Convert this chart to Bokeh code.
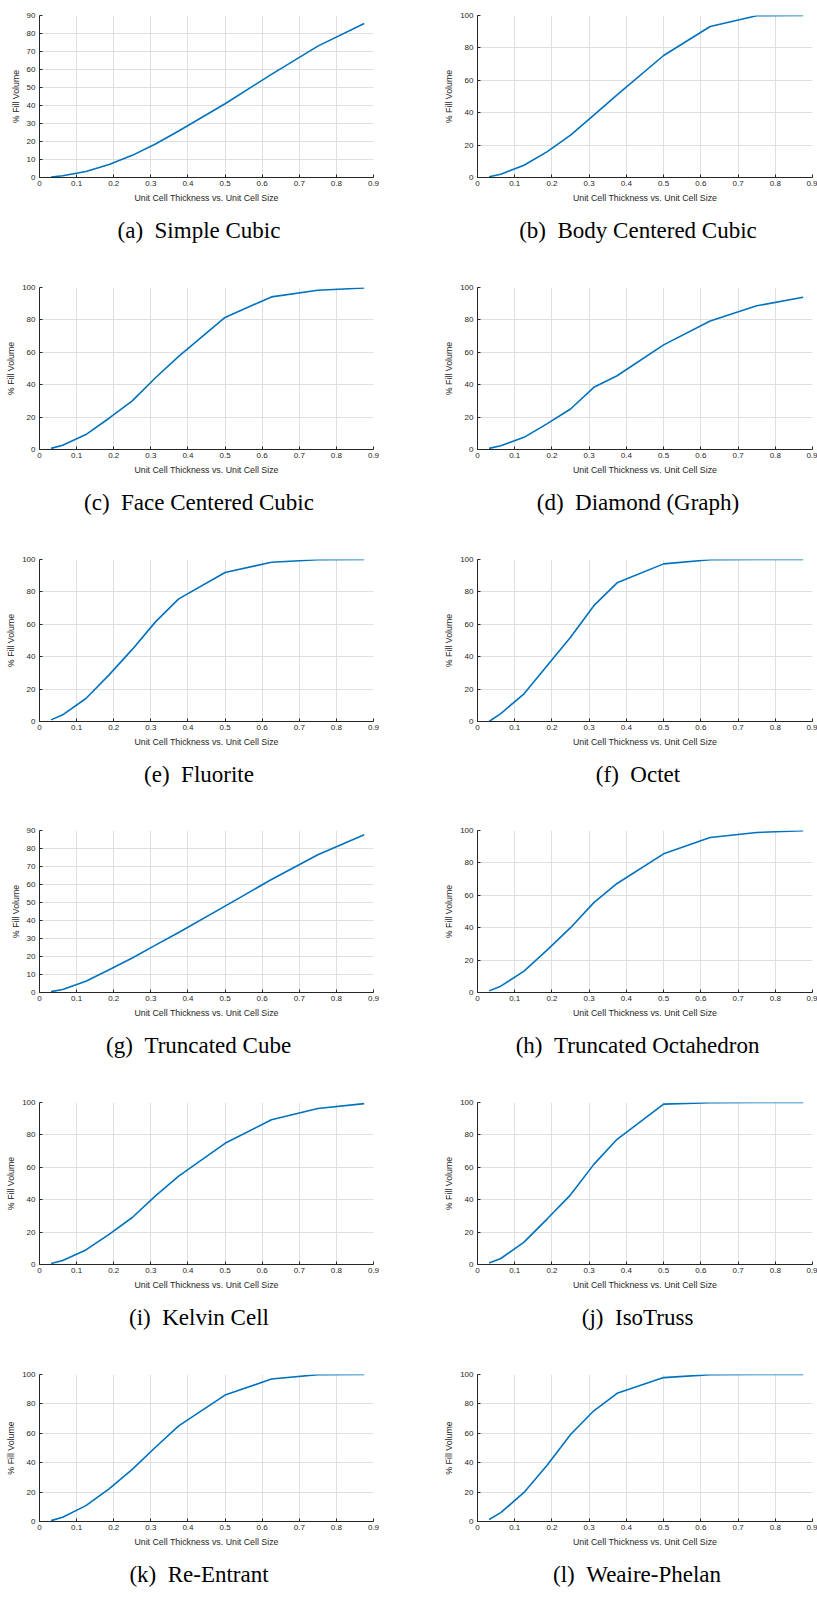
from bokeh.plotting import figure
from bokeh.models import Range1d, FixedTicker, PrintfTickFormatter, Title
from bokeh.layouts import column, row
from bokeh.embed import file_html
from bokeh.resources import INLINE

# ---- data ----
thickness = [0.03125, 0.0625, 0.125, 0.1875, 0.25, 0.3125, 0.375, 0.5, 0.625, 0.75, 0.875]

simple_cubic = [0.3, 1.0, 3.3, 7.2, 12.3, 18.6, 25.8, 41.0, 57.3, 73.0, 85.6]
body_centered_cubic = [0.5, 2.0, 7.6, 16.0, 26.2, 38.5, 51.0, 75.3, 93.2, 99.8, 100.0]
face_centered_cubic = [0.7, 2.6, 9.2, 19.3, 30.0, 44.3, 57.5, 81.5, 94.2, 98.3, 99.7]
diamond_graph = [0.7, 2.3, 7.5, 16.0, 25.0, 38.4, 45.5, 64.6, 79.3, 88.7, 94.0]
fluorite = [1.0, 4.1, 14.2, 28.8, 44.5, 61.5, 75.7, 92.0, 98.3, 99.8, 100.0]
octet = [0.0, 4.9, 17.1, 34.5, 52.0, 71.5, 85.6, 97.3, 99.8, 100.0, 100.0]
truncated_cube = [0.5, 1.7, 6.3, 12.6, 19.2, 26.3, 33.3, 48.0, 62.8, 76.5, 87.6]
truncated_octahedron = [1.0, 3.9, 13.2, 26.3, 40.0, 55.5, 67.3, 85.6, 95.7, 98.8, 99.8]
kelvin_cell = [0.6, 2.5, 9.0, 18.6, 29.0, 42.4, 54.5, 74.8, 89.3, 96.3, 99.3]
isotruss = [1.0, 3.7, 13.8, 28.2, 43.0, 61.8, 77.3, 99.0, 99.9, 100.0, 100.0]
re_entrant = [0.6, 2.9, 10.8, 22.2, 35.5, 50.5, 65.0, 86.0, 96.9, 99.9, 100.0]
weaire_phelan = [1.4, 6.0, 19.8, 38.5, 59.2, 75.3, 87.2, 97.9, 99.9, 100.0, 100.0]

captions = [
    "(a)\u00a0\u00a0Simple Cubic", "(b)\u00a0\u00a0Body Centered Cubic",
    "(c)\u00a0\u00a0Face Centered Cubic", "(d)\u00a0\u00a0Diamond (Graph)",
    "(e)\u00a0\u00a0Fluorite", "(f)\u00a0\u00a0Octet",
    "(g)\u00a0\u00a0Truncated Cube", "(h)\u00a0\u00a0Truncated Octahedron",
    "(i)\u00a0\u00a0Kelvin Cell", "(j)\u00a0\u00a0IsoTruss",
    "(k)\u00a0\u00a0Re-Entrant", "(l)\u00a0\u00a0Weaire-Phelan",
]
series = [simple_cubic, body_centered_cubic, face_centered_cubic, diamond_graph,
          fluorite, octet, truncated_cube, truncated_octahedron,
          kelvin_cell, isotruss, re_entrant, weaire_phelan]
y_max = [90, 100, 100, 100, 100, 100, 90, 100, 100, 100, 100, 100]

x_ticks = [0, 0.1, 0.2, 0.3, 0.4, 0.5, 0.6, 0.7, 0.8, 0.9]
y_ticks_90 = [0, 10, 20, 30, 40, 50, 60, 70, 80, 90]
y_ticks_100 = [0, 20, 40, 60, 80, 100]

x_label = "Unit Cell Thickness vs. Unit Cell Size"
y_label = "% Fill Volume"

AX = "#262626"
GRID = "#dfdfdf"
LINE = "#0072BD"
SANS = "Liberation Sans"
SERIF = "Liberation Serif"
CAP_SIZE = 23

# Times / Liberation Serif advance widths (per 1000 em), used to place captions
TIMES_W = {' ': 250, '\u00a0': 250, '(': 333, ')': 333, '-': 333,
           'a': 444, 'b': 500, 'c': 444, 'd': 500, 'e': 444, 'f': 333, 'g': 500,
           'h': 500, 'i': 278, 'j': 278, 'k': 500, 'l': 278, 'm': 778, 'n': 500,
           'o': 500, 'p': 500, 'r': 333, 's': 389, 't': 278, 'u': 500, 'v': 500,
           'y': 500, 'z': 444, 'B': 667, 'C': 667, 'D': 722, 'E': 611, 'F': 556,
           'G': 722, 'I': 333, 'K': 722, 'O': 722, 'P': 556, 'R': 667, 'S': 556,
           'T': 611, 'W': 944}


def text_width(s):
    return sum(TIMES_W.get(c, 500) for c in s) / 1000.0 * CAP_SIZE


row_heights = [272, 272, 271, 272, 272, 242]
FRAME_H = 162
TOP = 15


def make_panel(i):
    col = i % 2
    r = i // 2
    if col == 0:
        width, mbl, mbr = 408, 39, 35
        frame_left, cap_center = 39, 198.5
    else:
        width, mbl, mbr = 409, 69, 5
        frame_left, cap_center = 477, 637.5
    height = row_heights[r]
    mbb = height - TOP - FRAME_H
    yt = y_ticks_90 if y_max[i] == 90 else y_ticks_100
    p = figure(width=width, height=height, output_backend="svg", toolbar_location=None,
               x_range=Range1d(0, 0.9), y_range=Range1d(0, y_max[i]),
               min_border_left=mbl, min_border_right=mbr, min_border_top=TOP,
               min_border_bottom=mbb, outline_line_color=None,
               background_fill_color="white", border_fill_color="white")
    p.line(thickness, series[i], line_color=LINE, line_width=1.6)

    p.xaxis.ticker = FixedTicker(ticks=x_ticks)
    p.xaxis.formatter = PrintfTickFormatter(format="%.3g")
    p.yaxis.ticker = FixedTicker(ticks=yt)
    p.xaxis.axis_label = x_label
    p.yaxis.axis_label = y_label
    for ax in (p.xaxis[0], p.yaxis[0]):
        ax.axis_line_color = AX
        ax.axis_line_width = 1
        ax.major_tick_line_color = AX
        ax.major_tick_in = 3
        ax.major_tick_out = 0
        ax.minor_tick_line_color = None
        ax.major_label_text_font = SANS
        ax.major_label_text_font_size = "8px"
        ax.major_label_text_color = AX
        ax.axis_label_text_font = SANS
        ax.axis_label_text_font_size = "8.8px"
        ax.axis_label_text_font_style = "normal"
        ax.axis_label_text_color = AX
    p.xaxis.major_label_standoff = 3
    p.xaxis.axis_label_standoff = 4
    p.yaxis.major_label_standoff = 4
    p.yaxis.axis_label_standoff = 3
    p.xgrid.grid_line_color = GRID
    p.ygrid.grid_line_color = GRID
    p.xgrid.ticker = FixedTicker(ticks=x_ticks)
    p.ygrid.ticker = FixedTicker(ticks=yt)

    cap_text = captions[i]
    offset = cap_center - text_width(cap_text) / 2.0 - frame_left
    cap = Title(text=cap_text, align="left", offset=offset, vertical_align="top",
                standoff=25, text_font=SERIF, text_font_size=f"{CAP_SIZE}px",
                text_font_style="normal", text_color="black")
    p.add_layout(cap, "below")
    return p


panels = [make_panel(i) for i in range(12)]
layout = column(*[row(panels[2 * r], panels[2 * r + 1]) for r in range(6)])

open("out.html", "w").write(file_html(layout, INLINE))
